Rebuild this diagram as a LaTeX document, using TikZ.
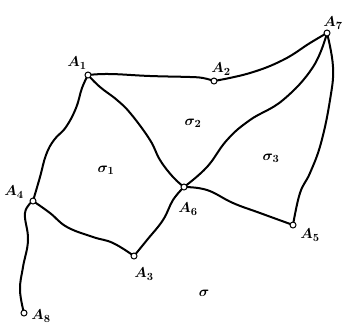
\documentclass[tikz,border=0pt]{standalone}
\usepackage{tikz}
\begin{document}
\begin{tikzpicture}[x=1pt,y=-1pt,
  edge/.style={line width=2pt,line join=round,line cap=round},
  vtx/.style={circle,draw,fill=white,line width=1pt,inner sep=0pt,minimum size=6pt},
  lbl/.style={font=\fontsize{15}{17}\selectfont\boldmath,inner sep=0pt}]
\useasboundingbox (0,0) rectangle (342,325);
% vertex positions
\coordinate (A1) at (88,75);
\coordinate (A2) at (214,81);
\coordinate (A3) at (134,256);
\coordinate (A4) at (33,201);
\coordinate (A5) at (293,225);
\coordinate (A6) at (184,187);
\coordinate (A7) at (327,33);
\coordinate (A8) at (24,313);
% edges
\draw[edge] plot[smooth,tension=0.7] coordinates {(A1) (110,74) (150,76) (190,77) (203,78) (A2)};
\draw[edge] plot[smooth,tension=0.7] coordinates {(A2) (250,73) (283,60) (310,43) (A7)};
\draw[edge] plot[smooth,tension=0.7] coordinates {(A7) (313,67) (283,100) (250,120) (227,140) (207,167) (A6)};
\draw[edge] plot[smooth,tension=0.7] coordinates {(A7) (333,67) (330,100) (321,143) (310,173) (300,193) (A5)};
\draw[edge] plot[smooth,tension=0.7] coordinates {(A1) (82,88) (76,108) (66,127) (54,140) (46,155) (40,177) (A4)};
\draw[edge] plot[smooth,tension=0.7] coordinates {(A1) (100,87) (117,100) (131,114) (150,140) (160,160) (173,177) (A6)};
\draw[edge] plot[smooth,tension=0.7] coordinates {(A4) (50,213) (67,227) (93,237) (113,243) (A3)};
\draw[edge] plot[smooth,tension=0.7] coordinates {(A3) (147,240) (163,220) (173,200) (A6)};
\draw[edge] plot[smooth,tension=0.7] coordinates {(A6) (207,190) (233,203) (260,213) (A5)};
\draw[edge] plot[smooth,tension=0.7] coordinates {(A4) (25,213) (28,240) (23,267) (20,290) (A8)};
% vertices
\foreach \v in {A1,A2,A3,A4,A5,A6,A7,A8} \node[vtx] (n\v) at (\v) {};
% labels
\node[lbl] (l1) at (77,63) {$A_1$};
\node[lbl] (l2) at (221,69) {$A_2$};
\node[lbl] (l7) at (333,23) {$A_7$};
\node[lbl] (l4) at (14,192) {$A_4$};
\node[lbl] (l6) at (188,209) {$A_6$};
\node[lbl] (l5) at (310,235) {$A_5$};
\node[lbl] (l3) at (144,274) {$A_3$};
\node[lbl] (l8) at (41,316) {$A_8$};
\node[lbl] (s2) at (193,123) {$\sigma_2$};
\node[lbl] (s1) at (106,170) {$\sigma_1$};
\node[lbl] (s3) at (271,158) {$\sigma_3$};
\node[lbl] (s) at (204,293) {$\sigma$};
\end{tikzpicture}
\end{document}
